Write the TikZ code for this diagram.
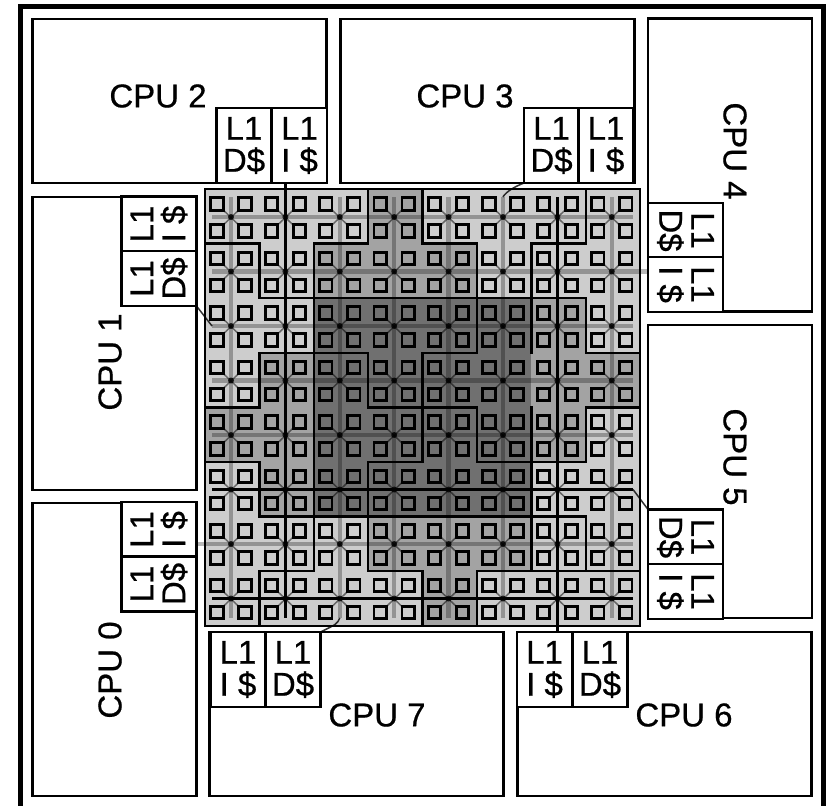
\documentclass[tikz,border=0pt]{standalone}
\usepackage{fontspec}
\setmainfont{Liberation Sans}
\newfontfamily\chipfont[FakeBold=0.6]{Liberation Sans}
\definecolor{tileLight}{RGB}{205,205,205}
\definecolor{tileMid}{RGB}{163,163,163}
\definecolor{tileDark}{RGB}{112,112,112}
\usetikzlibrary{positioning, calc}

\begin{document}
\begin{tikzpicture}[
    x=1pt, y=-1pt,
    every node/.style={inner sep=0pt, outer sep=0pt},
    chip/.style={draw=black, line width=5pt, minimum width=803pt, minimum height=803pt},
    cpubox/.style={draw=black, line width=2.4pt, fill=white},
    cpuwide/.style={cpubox, minimum width=294pt, minimum height=164pt},
    cputall/.style={cpubox, minimum width=164pt, minimum height=293pt},
    cpulabel/.style={font=\chipfont\fontsize{33}{33}\selectfont},
    cacheup/.style={draw=black, line width=2.2pt, fill=white, minimum width=55pt, minimum height=75pt,
                    align=center, font=\chipfont\fontsize{33}{32}\selectfont},
    cacheside/.style={draw=black, line width=2.2pt, fill=white, minimum width=75pt, minimum height=55pt},
    cachetext/.style={align=center, font=\chipfont\fontsize{33}{32}\selectfont},
    tileL/.style={fill=tileLight, minimum width=54.5pt, minimum height=54.7pt},
    tileM/.style={fill=tileMid, minimum width=54.5pt, minimum height=54.7pt},
    tileD/.style={fill=tileDark, minimum width=54.5pt, minimum height=54.7pt},
    bank/.style={draw=black, line width=2.8pt, minimum size=12.5pt},
    router/.style={circle, fill=black, opacity=.8, minimum size=6pt},
    spoke/.style={black, line width=1.5pt, opacity=.5},
    wire/.style={black, line width=4.5pt, opacity=.28},
    blackwire/.style={black, line width=2.2pt},
    link/.style={black, line width=1.5pt, opacity=.8},
    regionline/.style={black, line width=2.4pt, line cap=rect}
  ]
    \useasboundingbox (0,0) rectangle (831,806);
    \fill[white] (0,0) rectangle (831,806);
    \node[chip] (chip) at (421.5,407.5) {};

    \node[cpuwide] (cpu2) at (179.5,101) {};
    \node[cpuwide] (cpu3) at (487.5,101) {};
    \node[cpuwide] (cpu6) at (664.5,714) {};
    \node[cpuwide] (cpu7) at (356.5,714) {};
    \node[cputall] (cpu4) at (730,165) {};
    \node[cputall] (cpu5) at (730,471.5) {};
    \node[cputall] (cpu0) at (114.5,649.5) {};
    \node[cputall] (cpu1) at (114.5,343.5) {};

    \node[cpulabel] (cpu2text) at (158,96) {CPU 2};
    \node[cpulabel] (cpu3text) at (465,96) {CPU 3};
    \node[cpulabel] (cpu7text) at (377,715) {CPU 7};
    \node[cpulabel] (cpu6text) at (684,715) {CPU 6};
    \node[cpulabel, rotate=90] (cpu1text) at (110,362) {CPU 1};
    \node[cpulabel, rotate=90] (cpu0text) at (110,670) {CPU 0};
    \node[cpulabel, rotate=-90] (cpu4text) at (735,151) {CPU 4};
    \node[cpulabel, rotate=-90] (cpu5text) at (735,457) {CPU 5};

    \node[cacheup] (cpu2d) at (244,145.5) {L1\\D\$};
    \node[cacheup] (cpu2i) at (299.5,145.5) {L1\\I \$};
    \node[cacheup] (cpu3d) at (551.5,145.5) {L1\\D\$};
    \node[cacheup] (cpu3i) at (606,145.5) {L1\\I \$};
    \node[cacheup] (cpu6i) at (544.5,669.5) {L1\\I \$};
    \node[cacheup] (cpu6d) at (600,669.5) {L1\\D\$};
    \node[cacheup] (cpu7i) at (238,669.5) {L1\\I \$};
    \node[cacheup] (cpu7d) at (293,669.5) {L1\\D\$};

    \node[cacheside] (cpu4d) at (685.5,230.5) {};
    \node[cacheside] (cpu4i) at (685.5,284.5) {};
    \node[cacheside] (cpu5d) at (685.5,537) {};
    \node[cacheside] (cpu5i) at (685.5,591.5) {};
    \node[cacheside] (cpu0i) at (159,529.5) {};
    \node[cacheside] (cpu0d) at (159,584) {};
    \node[cacheside] (cpu1i) at (159,224) {};
    \node[cacheside] (cpu1d) at (159,278.5) {};
    \node[cachetext, rotate=-90] (cpu4dtext) at (cpu4d) {L1\\D\$};
    \node[cachetext, rotate=-90] (cpu4itext) at (cpu4i) {L1\\I \$};
    \node[cachetext, rotate=-90] (cpu5dtext) at (cpu5d) {L1\\D\$};
    \node[cachetext, rotate=-90] (cpu5itext) at (cpu5i) {L1\\I \$};
    \node[cachetext, rotate=90] (cpu0itext) at (cpu0i) {L1\\I \$};
    \node[cachetext, rotate=90] (cpu0dtext) at (cpu0d) {L1\\D\$};
    \node[cachetext, rotate=90] (cpu1itext) at (cpu1i) {L1\\I \$};
    \node[cachetext, rotate=90] (cpu1dtext) at (cpu1d) {L1\\D\$};

    \foreach \row/\shades in {0/{L,L,L,M,L,L,L,L}, 1/{L,L,M,M,M,L,L,L},
                              2/{L,L,D,D,D,D,M,L}, 3/{L,M,D,D,D,D,M,M},
                              4/{M,M,D,D,D,D,M,L}, 5/{L,M,D,D,D,D,L,L},
                              6/{L,L,L,M,M,M,L,L}, 7/{L,L,L,L,M,L,L,L}}
      \foreach \s [count=\col from 0] in \shades
        \node[tile\s] (tile-\row-\col) at ({232.2+54.4*\col},{216.3+54.6*\row}) {};

    \foreach \col in {0,...,8}
      \foreach \row in {0,...,8}
        \coordinate (g-\col-\row) at ({205+54.4*\col},{189+54.6*\row});

    \foreach \row in {0,...,7}
      \foreach \col in {0,...,7} {
        \node[router] (r-\row-\col) at ({231+54.4*\col},{217+54.5*\row}) {};
        \node[bank] (b-\row-\col-nw) at ({217+54.4*\col},{204+54.5*\row}) {};
        \node[bank] (b-\row-\col-ne) at ({245+54.4*\col},{204+54.5*\row}) {};
        \node[bank] (b-\row-\col-sw) at ({217+54.4*\col},{231+54.5*\row}) {};
        \node[bank] (b-\row-\col-se) at ({245+54.4*\col},{231+54.5*\row}) {};
        \draw[spoke] (b-\row-\col-nw) -- (b-\row-\col-se);
        \draw[spoke] (b-\row-\col-ne) -- (b-\row-\col-sw);
      }

    \foreach \col in {0,...,7} {
      \coordinate (colTop-\col) at ({231+54.4*\col},197);
      \coordinate (colEnd-\col) at ({231+54.4*\col},618);
    }
    \foreach \row in {0,...,7} {
      \coordinate (rowStart-\row) at (212,{217+54.5*\row});
      \coordinate (rowEnd-\row) at (633,{217+54.5*\row});
    }
    \foreach \col in {0,2,3,4,5,7}
      \draw[wire] (colTop-\col) -- (colEnd-\col);
    \foreach \row in {0,1,2,3,4,6}
      \draw[wire] (rowStart-\row) -- (rowEnd-\row);
    \draw[wire] (rowEnd-1) -- (r-1-7 -| cpu4i.west);
    \draw[wire] (rowStart-6) -- (r-6-0 -| cpu0i.east);

    \foreach \a/\b/\c/\d in {0/1/1/1, 2/1/3/1, 4/1/5/1, 6/1/7/1,
                             3/0/3/1, 4/0/4/1, 7/0/7/1,
                             1/1/1/2, 1/2/7/2, 2/1/2/7, 5/1/5/3, 6/1/6/3,
                             1/3/3/3, 4/3/5/3, 7/3/8/3, 7/2/7/3,
                             1/3/1/4, 3/3/3/4, 4/3/4/5,
                             0/4/1/4, 3/4/5/4, 7/4/8/4,
                             5/4/5/5, 6/4/6/7, 7/4/7/5,
                             0/5/1/5, 3/5/4/5, 5/5/7/5,
                             1/5/1/6, 3/5/3/7, 1/6/7/6, 7/6/7/7,
                             1/7/2/7, 3/7/4/7, 5/7/8/7,
                             1/7/1/8, 4/7/4/8, 5/7/5/8,
                             0/0/8/0, 8/0/8/8, 8/8/0/8, 0/8/0/0}
      \draw[regionline] (g-\a-\b) -- (g-\c-\d);

    \draw[blackwire] (r-0-1 |- cpu2i.south) -- (colEnd-1);
    \draw[blackwire] (colTop-6) -- (r-7-6 |- cpu6i.north);
    \draw[blackwire] (rowStart-5) -- (rowEnd-5);
    \draw[blackwire] (rowStart-7) -- (rowEnd-7);
    \draw[link] (rowEnd-5) -- (cpu5d.north west);
    \draw[link] (cpu1d.south east) -- (rowStart-2);
    \draw[link] (cpu3d.south west) .. controls (506,190) and (503,197) .. (colTop-5);
    \draw[link] (cpu7d.north east) .. controls (337,624) .. (colEnd-2);
  \end{tikzpicture}
\end{document}
